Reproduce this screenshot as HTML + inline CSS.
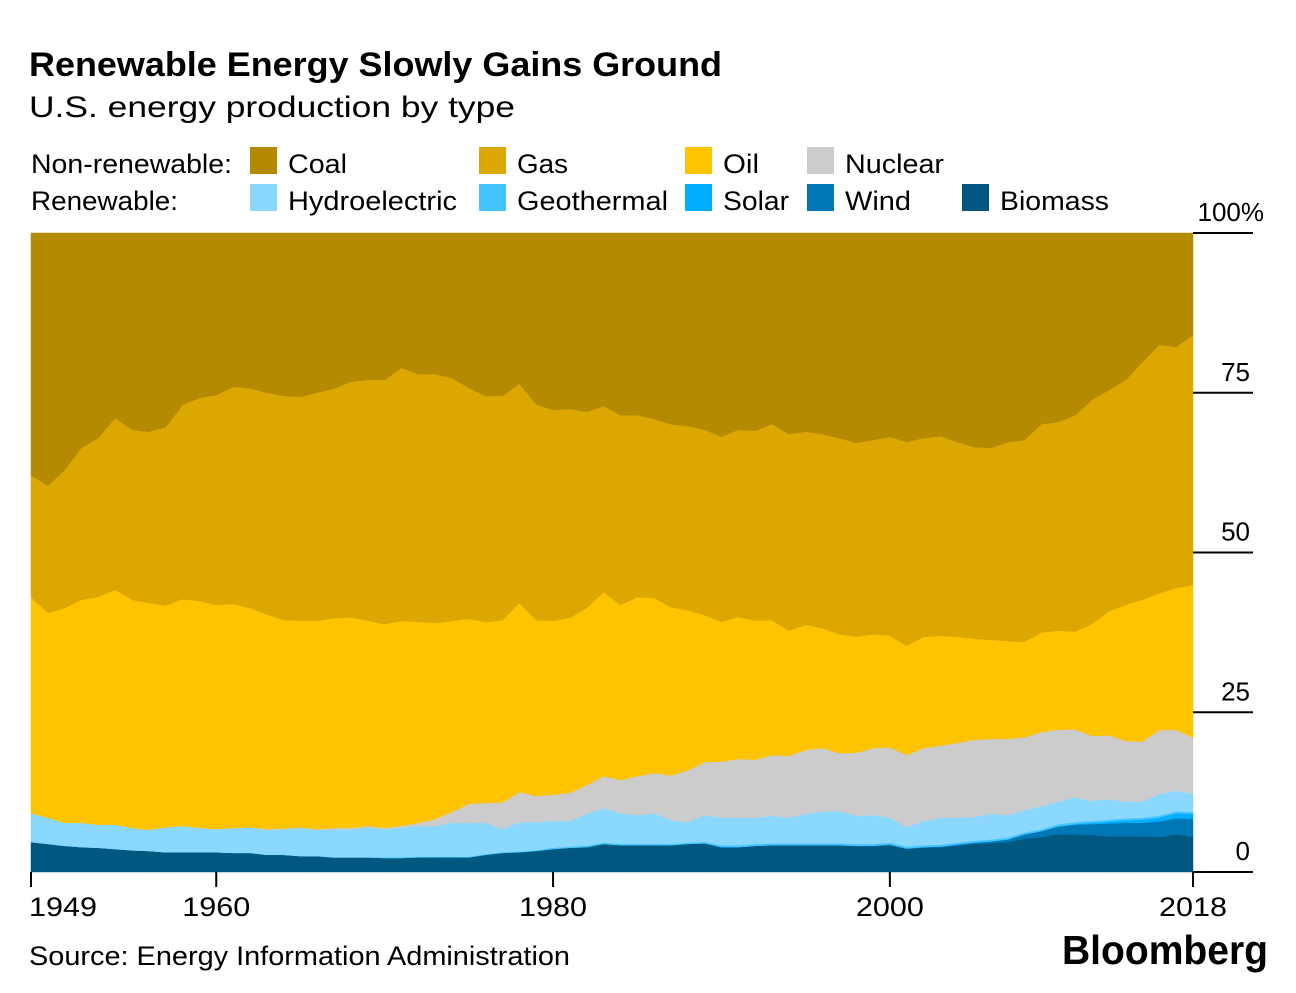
<!DOCTYPE html>
<html><head><meta charset="utf-8">
<style>
html,body{margin:0;padding:0;background:#fff;}
body{width:1296px;height:988px;overflow:hidden;font-family:"Liberation Sans",Arial,sans-serif;}
</style></head>
<body>
<svg id="chart" width="1296" height="988" xmlns="http://www.w3.org/2000/svg" font-family="Liberation Sans, Arial, sans-serif">
<text x="29" y="76" font-size="34" font-weight="bold" fill="#000" textLength="693" lengthAdjust="spacingAndGlyphs">Renewable Energy Slowly Gains Ground</text>
<text x="29" y="117" font-size="30" fill="#000" textLength="486" lengthAdjust="spacingAndGlyphs">U.S. energy production by type</text>
<g id="legend" font-size="27" fill="#000"></g>
<g id="areas"></g>
<g id="axes"></g>
<text x="29" y="965" font-size="27" fill="#000" textLength="541" lengthAdjust="spacingAndGlyphs">Source: Energy Information Administration</text>
<text x="1062" y="964" font-size="41" font-weight="bold" fill="#000" textLength="206" lengthAdjust="spacingAndGlyphs">Bloomberg</text>
</svg>
<script>
const startYear = 1949;
const coal = [37.9,39.6,37.1,33.6,32.1,29.0,30.8,31.1,30.4,26.9,25.8,25.4,24.1,24.3,25.0,25.5,25.7,25.0,24.4,23.3,23.0,23.0,21.1,22.1,22.1,22.7,24.3,25.5,25.5,23.6,26.8,27.7,27.5,28.0,27.1,28.5,28.5,29.1,29.9,30.2,30.8,31.9,30.8,31.0,29.9,31.5,31.1,31.5,32.1,32.9,32.4,31.9,32.7,32.1,31.8,32.7,33.5,33.6,32.7,32.4,29.9,29.6,28.5,26.1,24.6,23.0,20.2,17.5,17.8,16.0];
const gas = [19.1,19.9,21.6,23.8,24.9,26.9,26.6,26.8,27.9,30.4,31.8,32.9,34.0,34.4,34.7,35.1,35.1,35.7,36.0,36.9,37.7,38.2,39.6,38.8,39.0,38.0,36.2,35.4,35.1,34.3,33.8,33.0,32.7,30.7,29.1,29.7,28.5,28.0,28.6,28.8,29.0,29.0,29.3,29.7,30.7,30.8,30.2,30.4,30.7,30.4,30.4,31.1,31.9,31.1,31.3,30.5,30.0,30.0,31.1,31.6,32.6,32.7,33.8,35.1,34.6,35.2,37.2,38.8,37.7,39.1];
const oil = [33.8,32.1,33.6,34.9,35.7,36.8,35.7,35.5,34.7,35.5,35.5,35.1,35.1,34.3,33.6,32.7,32.4,32.7,32.9,33.0,32.2,31.9,32.1,31.5,30.7,29.9,29.0,28.3,28.5,29.6,27.5,27.2,27.4,27.7,28.8,27.4,28.0,27.4,26.3,25.0,23.0,21.9,22.2,21.8,21.1,19.6,19.6,18.8,18.6,18.2,17.8,17.5,17.1,17.4,17.2,16.6,15.8,15.5,15.3,14.9,15.6,15.5,15.3,17.5,19.4,21.3,22.2,21.4,22.2,23.9];
const nuclear = [0,0,0,0,0,0,0,0,0,0,0,0,0,0,0.1,0.1,0.1,0.1,0.2,0.2,0.2,0.2,0.2,0.5,1.1,1.7,3.0,3.1,4.2,4.7,4.1,4.1,4.4,4.5,5.0,5.2,6.1,6.3,7.0,8.1,8.3,8.8,9.2,9.1,9.5,9.7,10.0,9.9,9.1,9.9,10.5,11.0,11.3,11.4,11.3,11.7,12.1,11.7,11.9,11.4,11.6,11.3,10.6,10.2,10.0,9.5,9.4,10.0,9.5,8.8];
const hydro = [4.5,4.1,3.6,3.8,3.6,3.8,3.5,3.3,3.9,4.1,3.8,3.6,3.9,4.0,3.9,4.0,4.4,4.1,4.4,4.4,4.7,4.4,4.7,4.8,4.8,5.3,5.3,4.9,3.6,4.6,4.4,4.2,4.0,5.0,5.4,4.8,4.5,4.8,3.7,3.2,4.2,4.3,4.3,4.1,4.3,4.0,4.6,5.0,5.0,4.4,4.5,3.9,3.0,3.8,4.2,3.9,3.7,4.0,3.5,3.5,3.6,3.5,3.9,3.1,3.2,2.6,2.5,3.4,3.2,2.8];
const geothermal = [0,0,0,0,0,0,0,0,0,0,0,0,0,0,0,0,0,0,0,0,0,0.1,0.1,0.1,0.1,0.1,0.1,0.1,0.1,0.1,0.1,0.2,0.2,0.2,0.2,0.2,0.2,0.2,0.2,0.2,0.2,0.3,0.3,0.3,0.3,0.3,0.3,0.3,0.3,0.3,0.3,0.3,0.3,0.3,0.3,0.3,0.3,0.3,0.3,0.3,0.3,0.3,0.3,0.3,0.3,0.3,0.3,0.3,0.3,0.3];
const solar = [0,0,0,0,0,0,0,0,0,0,0,0,0,0,0,0,0,0,0,0,0,0,0,0,0,0,0,0,0,0,0,0,0,0,0,0,0,0,0,0,0,0,0,0,0,0,0,0,0,0,0,0,0,0,0,0,0,0,0,0,0,0.1,0.1,0.2,0.3,0.4,0.5,0.6,0.8,0.8];
const wind = [0,0,0,0,0,0,0,0,0,0,0,0,0,0,0,0,0,0,0,0,0,0,0,0,0,0,0,0,0,0,0,0,0,0,0,0,0,0,0,0,0,0,0,0,0,0,0,0,0,0,0,0.1,0.1,0.1,0.1,0.2,0.2,0.3,0.4,0.7,0.9,1.2,1.5,1.7,2.0,2.1,2.1,2.4,2.5,2.8];
const biomass = [4.7,4.4,4.1,3.9,3.8,3.6,3.4,3.3,3.1,3.1,3.1,3.1,3.0,3.0,2.7,2.7,2.5,2.5,2.3,2.3,2.3,2.2,2.2,2.3,2.3,2.3,2.3,2.7,3.0,3.1,3.3,3.6,3.8,3.9,4.4,4.2,4.2,4.2,4.2,4.4,4.5,3.9,3.9,4.1,4.2,4.2,4.2,4.2,4.2,4.1,4.1,4.2,3.6,3.8,3.9,4.1,4.4,4.5,4.7,5.2,5.5,5.9,5.9,5.8,5.6,5.6,5.6,5.5,5.9,5.5];
const xTicks = [1949,1960,1980,2000,2018];
const yTicks = [0,25,50,75,100];
const yTickLabels = ["0","25","50","75","100%"];

const NS = "http://www.w3.org/2000/svg";
const X0 = 31, X1 = 1193, Y0 = 872, Y1 = 233;
const n = coal.length;
const xScale = i => X0 + (X1 - X0) * i / (n - 1);
const yScale = v => Y0 - (Y0 - Y1) * v / 100;
function mk(tag, attrs, parent){ const e = document.createElementNS(NS, tag); for (const k in attrs) e.setAttribute(k, attrs[k]); parent.appendChild(e); return e; }

const layers = [
  {key:"biomass", data:biomass, color:"#005880", label:"Biomass", w:109},
  {key:"wind", data:wind, color:"#0077b5", label:"Wind", w:66},
  {key:"solar", data:solar, color:"#00aeff", label:"Solar", w:66},
  {key:"geothermal", data:geothermal, color:"#45c5ff", label:"Geothermal", w:151},
  {key:"hydroelectric", data:hydro, color:"#8bd8ff", label:"Hydroelectric", w:169},
  {key:"nuclear", data:nuclear, color:"#cccccc", label:"Nuclear", w:99},
  {key:"oil", data:oil, color:"#ffc400", label:"Oil", w:36},
  {key:"gas", data:gas, color:"#dba700", label:"Gas", w:51},
  {key:"coal", data:coal, color:"#b38a00", label:"Coal", w:59}
];
const totals = [];
for (let i = 0; i < n; i++){ let s = 0; layers.forEach(l => s += l.data[i]); totals.push(s); }
const areas = document.getElementById("areas");
let base = new Array(n).fill(0);
layers.forEach(l => {
  const top = base.map((b,i) => b + l.data[i] / totals[i] * 100);
  let d = "";
  for (let i = 0; i < n; i++) d += (i ? "L" : "M") + xScale(i).toFixed(2) + "," + yScale(top[i]).toFixed(2);
  for (let i = n - 1; i >= 0; i--) d += "L" + xScale(i).toFixed(2) + "," + yScale(base[i]).toFixed(2);
  d += "Z";
  const p = mk("path", {d:d, fill:l.color, stroke:l.color, "stroke-width":"0.5"}, areas);
  
  
  base = top;
});

const axes = document.getElementById("axes");
yTicks.forEach((t, k) => {
  const y = yScale(t);
  const ln = mk("line", {x1:1193, x2:1253, y1:y, y2:y, stroke:"#000", "stroke-width":"2"}, axes);
  
  
  const tx = mk("text", {x: t === 100 ? 1264 : 1250, y:y - 12, "font-size":"26", "text-anchor":"end", fill:"#000"}, axes);
  tx.textContent = yTickLabels[k];
  
  
});
xTicks.forEach(yr => {
  const x = xScale(yr - startYear);
  const tk = mk("line", {x1:x, x2:x, y1:872, y2:887, stroke:"#000", "stroke-width":"2"}, axes);
  
  
  const tx = mk("text", {x: yr === 1949 ? x - 2 : x, y:916, "font-size":"27", "text-anchor": yr === 1949 ? "start" : "middle", fill:"#000", textLength:"68", lengthAdjust:"spacingAndGlyphs"}, axes);
  tx.textContent = yr;
  
  
});

const legend = document.getElementById("legend");
const rowLabels = [["Non-renewable:", 173, 201], ["Renewable:", 210, 147]];
rowLabels.forEach(r => {
  const t = mk("text", {x:31, y:r[1], textLength:r[2], lengthAdjust:"spacingAndGlyphs"}, legend);
  t.textContent = r[0];
  
  
});
const legendItems = [
  ["coal",0,250],["gas",0,479],["oil",0,685],["nuclear",0,807],
  ["hydroelectric",1,250],["geothermal",1,479],["solar",1,685],["wind",1,807],["biomass",1,962]
];
legendItems.forEach(it => {
  const l = layers.find(z => z.key === it[0]);
  const ty = rowLabels[it[1]][1];
  const g = mk("g", {}, legend);
  
  
  mk("rect", {x:it[2], y:ty - 26, width:27, height:27, fill:l.color}, g);
  const t = mk("text", {x:it[2] + 38, y:ty, textLength:l.w, lengthAdjust:"spacingAndGlyphs"}, g);
  t.textContent = l.label;
});
</script>
</body></html>
